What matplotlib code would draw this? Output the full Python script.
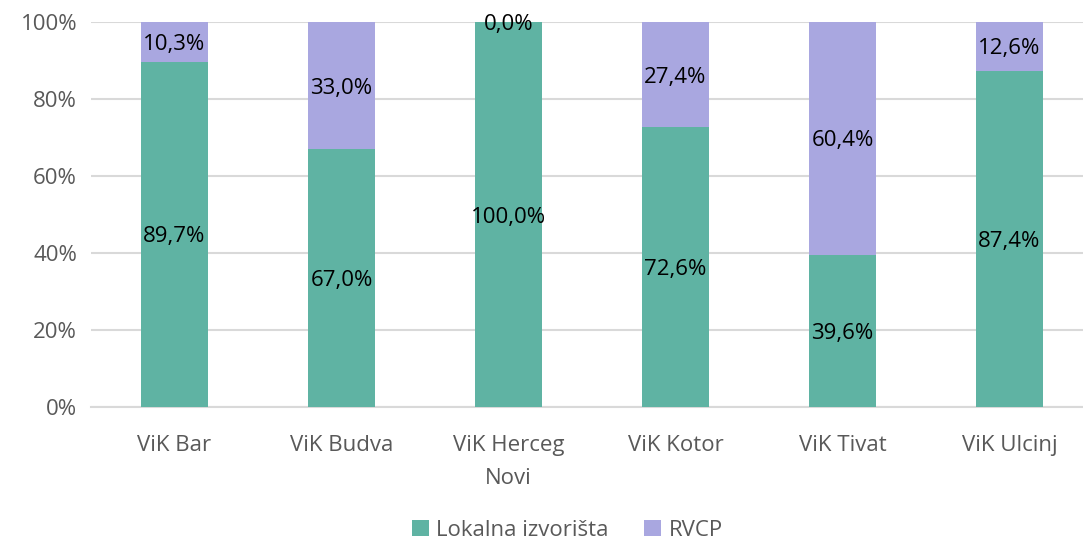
import numpy as np
import matplotlib.pyplot as plt
from matplotlib.ticker import FuncFormatter

categories = ['ViK Bar', 'ViK Budva', 'ViK Herceg\nNovi', 'ViK Kotor', 'ViK Tivat', 'ViK Ulcinj']
lokalna = [89.7, 67.0, 100.0, 72.6, 39.6, 87.4]
rvcp = [10.3, 33.0, 0.0, 27.4, 60.4, 12.6]

plt.rcParams['font.family'] = ['Open Sans', 'DejaVu Sans']

green = '#5FB3A3'
purple = '#A9A7E0'
grey = '#595959'

fig = plt.figure(figsize=(10.83, 5.39), dpi=100)
ax = fig.add_axes([91 / 1083, 1 - 407 / 539, 1002 / 1083, 385 / 539])

x = np.arange(len(categories))
ax.bar(x, lokalna, width=0.4, color=green, label='Lokalna izvorišta', zorder=3)
ax.bar(x, rvcp, width=0.4, bottom=lokalna, color=purple, label='RVCP', zorder=3)

for i in range(len(categories)):
    ax.text(x[i], lokalna[i] / 2, f'{lokalna[i]:.1f}%'.replace('.', ','),
            ha='center', va='center_baseline', fontsize=16, color='black', zorder=4)
    ax.text(x[i], lokalna[i] + rvcp[i] / 2, f'{rvcp[i]:.1f}%'.replace('.', ','),
            ha='center', va='center_baseline', fontsize=16, color='black', zorder=4)

ax.set_xlim(-0.5, len(categories) - 0.5)
ax.set_ylim(0, 100)
ax.set_yticks(np.arange(0, 101, 20))
ax.yaxis.set_major_formatter(FuncFormatter(lambda v, p: f'{v:.0f}%'))
ax.grid(axis='y', color='#D9D9D9', linewidth=1.5, zorder=0)
ax.set_xticks(x)
ax.set_xticklabels(categories, linespacing=1.75)
ax.tick_params(axis='both', length=0, labelsize=16, labelcolor=grey)
ax.tick_params(axis='x', pad=20)
ax.tick_params(axis='y', pad=10)
for s in ['top', 'right', 'left']:
    ax.spines[s].set_visible(False)
ax.spines['bottom'].set_color('#D9D9D9')
ax.spines['bottom'].set_linewidth(1.5)

leg = fig.legend(loc='center', bbox_to_anchor=(0.524, 1 - 530 / 539), ncol=2,
                 frameon=False, fontsize=16, handlelength=0.75, handleheight=0.75,
                 columnspacing=1.6, handletextpad=0.35)
for t in leg.get_texts():
    t.set_color(grey)

fig.savefig('out.png', dpi=100)
